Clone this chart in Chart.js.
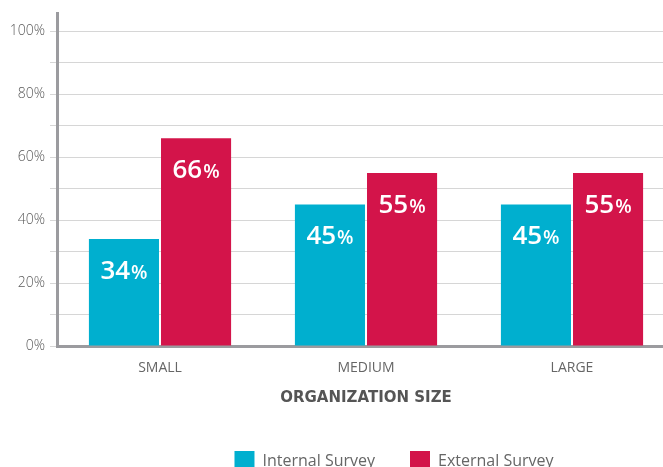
<!DOCTYPE html>
<html>
<head>
<meta charset="utf-8">
<script src="https://cdn.jsdelivr.net/npm/chart.js@4.4.0/dist/chart.umd.min.js"></script>
<style>
  html, body { margin: 0; padding: 0; background: #fff; overflow: hidden; }
</style>
</head>
<body>
<canvas id="chart" width="788" height="481"></canvas>
<script>
const categories = ['SMALL', 'MEDIUM', 'LARGE'];
const internalSurvey = [34, 45, 45];
const externalSurvey = [66, 55, 55];
const yLabels = [0, 20, 40, 60, 80, 100];

const fontFamily = '"Open Sans", Lato, sans-serif';
const axisColor = '#9b9b9f';
const gridColor = '#d6d6d6';

// white value labels inside the top of each bar, smaller % sign
const barLabels = {
  id: 'barLabels',
  afterDatasetsDraw(chart) {
    const ctx = chart.ctx;
    ctx.save();
    ctx.fillStyle = '#fff';
    ctx.textBaseline = 'alphabetic';
    chart.data.datasets.forEach((ds, i) => {
      chart.getDatasetMeta(i).data.forEach((bar, j) => {
        const num = String(ds.data[j]);
        ctx.font = '600 26px ' + fontFamily;
        const wNum = ctx.measureText(num).width;
        ctx.font = '600 19px ' + fontFamily;
        const wPct = ctx.measureText('%').width;
        const x0 = bar.x - (wNum + wPct + 1) / 2;
        const y = bar.y + 40;
        ctx.font = '600 26px ' + fontFamily;
        ctx.fillText(num, x0, y);
        ctx.font = '600 19px ' + fontFamily;
        ctx.fillText('%', x0 + wNum + 1, y);
      });
    });
    ctx.restore();
  }
};

new Chart(document.getElementById('chart'), {
  type: 'bar',
  plugins: [barLabels],
  data: {
    labels: categories,
    datasets: [
      {
        label: 'Internal Survey',
        data: internalSurvey,
        backgroundColor: '#00afcf',
        categoryPercentage: 0.7,
        barPercentage: 0.972
      },
      {
        label: 'External Survey',
        data: externalSurvey,
        backgroundColor: '#d3144a',
        categoryPercentage: 0.7,
        barPercentage: 0.972
      }
    ]
  },
  options: {
    responsive: false,
    animation: false,
    layout: { padding: { top: 10, left: 0, right: 0, bottom: 0 } },
    plugins: {
      tooltip: { enabled: false },
      legend: {
        position: 'bottom',
        labels: {
          boxWidth: 20,
          boxHeight: 20,
          padding: 35,
          color: '#666',
          font: { size: 16, family: fontFamily }
        }
      }
    },
    scales: {
      x: {
        afterFit: s => { s.height = 70; },
        grid: { display: false },
        border: { color: axisColor, width: 3 },
        ticks: { color: '#666', padding: 6, font: { size: 14, family: fontFamily } },
        title: {
          display: true,
          text: 'ORGANIZATION SIZE',
          color: '#555',
          font: { size: 15, weight: 'bold', family: '"DejaVu Sans", sans-serif' },
          padding: { top: 10, bottom: 9 }
        }
      },
      y: {
        min: 0,
        max: 105.7,
        afterBuildTicks: s => { s.ticks = s.ticks.filter(t => t.value <= 100); },
        afterFit: s => { s.width = 57; },
        grid: { color: gridColor, lineWidth: 1, tickLength: 7 },
        border: { color: axisColor, width: 3 },
        ticks: {
          stepSize: 10,
          padding: 5,
          color: '#5a5a5a',
          font: { size: 14, weight: 300, family: fontFamily },
          callback: v => yLabels.includes(v) ? v + '%' : ''
        }
      },
      yRight: {
        type: 'linear',
        position: 'right',
        grid: { display: false },
        border: { display: false },
        ticks: { display: false },
        afterFit: s => { s.width = 113; }
      }
    }
  }
});
</script>
</body>
</html>
